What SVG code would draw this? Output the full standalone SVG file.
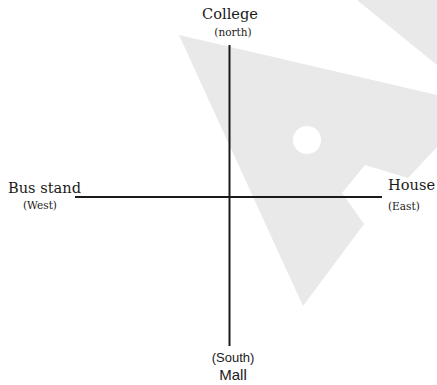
<svg xmlns="http://www.w3.org/2000/svg" width="437" height="385" viewBox="0 0 437 385">
<style>
.bg{fill:#e9e9e9;stroke:none}
.axis{stroke:#1a1a1a;stroke-width:2;fill:none}
.lbl{font-family:"DejaVu Serif","Liberation Serif",serif;fill:#1a1a1a}
.big{font-size:14.6px}
.small{font-size:10.5px}
.sans{font-family:"Liberation Sans",Arial,sans-serif;fill:#1a1a1a}
</style>
<g id="watermark">
<polygon class="bg" points="357,0 437,0 437,65"/>
<path class="bg" fill-rule="evenodd" d="M179,35 L437,95 L437,147 L408,178 L365,165 L342,193 L364,224 L303,306 Z M321,140 A14,14 0 1,0 293,140 A14,14 0 1,0 321,140 Z"/>
</g>
<g id="connectors">
<line class="axis" x1="229.5" y1="45" x2="229.5" y2="346"/>
<line class="axis" x1="75" y1="197" x2="382" y2="197"/>
</g>
<g id="north">
<text class="lbl big" x="230" y="19" text-anchor="middle">College</text>
<text class="lbl small" x="233" y="36" text-anchor="middle">(north)</text>
</g>
<g id="west">
<text class="lbl big" x="8" y="193">Bus stand</text>
<text class="lbl small" x="40" y="209" text-anchor="middle">(West)</text>
</g>
<g id="east">
<text class="lbl big" x="388" y="190">House</text>
<text class="lbl small" x="388" y="210">(East)</text>
</g>
<g id="south">
<text class="sans" font-size="13" x="233" y="362" text-anchor="middle">(South)</text>
<text class="sans" font-size="15" x="233" y="380" text-anchor="middle">Mall</text>
</g>
</svg>
